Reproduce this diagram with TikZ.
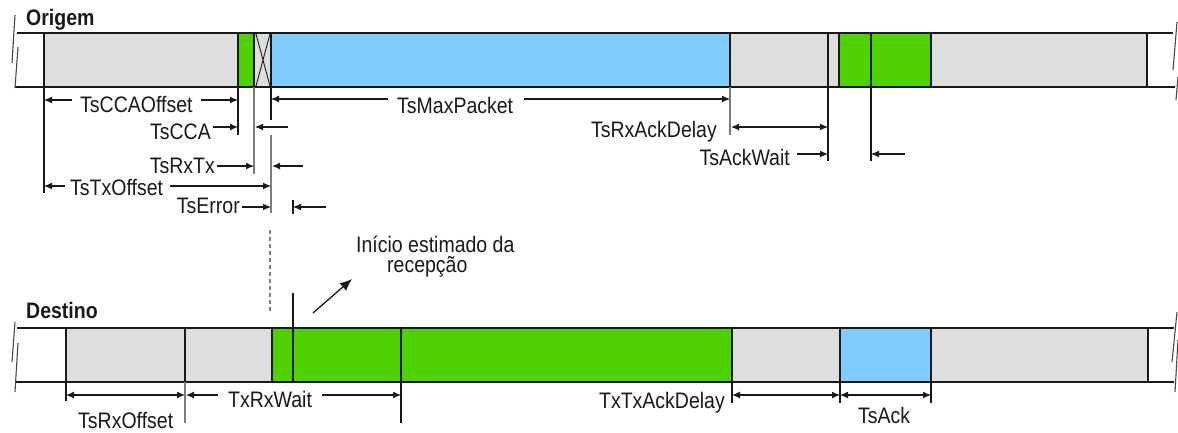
\documentclass[tikz,border=0pt]{standalone}
\usepackage{fontspec}
\setmainfont{Liberation Sans}
\usetikzlibrary{arrows.meta}
\definecolor{slot}{RGB}{222,222,222}
\definecolor{busy}{RGB}{79,209,0}
\definecolor{frame}{RGB}{128,204,255}
\definecolor{ink}{RGB}{25,25,25}
\definecolor{guide}{RGB}{125,125,125}
\newcommand{\lbl}[1]{\scalebox{1}[1.15]{#1}}
\begin{document}
\begin{tikzpicture}[x=1pt,y=-1pt,
  box/.style={draw=ink,line width=1.3pt},
  edge/.style={draw=ink,line width=1.3pt},
  dim/.style={draw=ink,line width=1.1pt},
  ext/.style={draw=ink,line width=1.1pt},
  extg/.style={draw=guide,line width=1.4pt},
  brk/.style={draw=ink!80,line width=1.1pt},
  rt/.style={dim,-{Latex[length=8pt,width=7pt]}},
  both/.style={dim,{Latex[length=8pt,width=7pt]}-{Latex[length=8pt,width=7pt]}},
  lab/.style={font=\fontsize{19.5}{22}\selectfont,inner sep=0pt,anchor=base west,text=ink},
  title/.style={font=\fontsize{19.5}{22}\selectfont\bfseries,inner sep=0pt,anchor=base west,text=ink}]
\useasboundingbox (0,0) rectangle (1178,432);

% ---------------- Origem (transmitter) time line ----------------
\node[title] (origem) at (26,25) {\lbl{Origem}};
\draw[box,fill=slot] (44,33) rectangle (238,87);
\draw[box,fill=busy] (238,33) rectangle (254,87);
\draw[box,fill=slot] (254,33) rectangle (271,87);
\draw[ink,line width=0.9pt] (256,34) -- (270,86) (270,34) -- (256,86);
\draw[box,fill=frame] (271,33) rectangle (730,87);
\draw[box,fill=slot] (730,33) rectangle (828,87);
\draw[box,fill=slot] (828,33) rectangle (839,87);
\draw[box,fill=busy] (839,33) rectangle (931,87);
\draw[box,fill=slot] (931,33) rectangle (1147,87);
\draw[edge] (17,33) -- (44,33) (15,87) -- (44,87);
\draw[edge] (1147,33) -- (1173,33) (1147,87) -- (1175,87);
% break marks
\draw[brk] (15,15) -- (12,63) (18,47) -- (15,88);
\draw[brk] (1177,22) -- (1173,70) (1178,77) -- (1176,100);

% extension lines
\draw[ext] (44,87) -- (44,193);
\draw[ext] (238,87) -- (238,135);
\draw[extg] (254,87) -- (254,174);
\draw[ext] (271,87) -- (271,120);
\draw[extg] (271,135) -- (271,213);
\draw[extg] (730,87) -- (730,135);
\draw[ext] (828,87) -- (828,161);
\draw[ext] (871,33) -- (871,161);

% row 1
\node[lab] (cca off) at (80,112) {\lbl{TsCCAOffset}};
\draw[rt] (72,100) -- (44,100);
\draw[rt] (201,100) -- (238,100);
\node[lab] (maxp) at (397,113) {\lbl{TsMaxPacket}};
\draw[rt] (388,99) -- (271,99);
\draw[rt] (524,99) -- (730,99);
% row 2
\node[lab,anchor=base east] (cca) at (211,139) {\lbl{TsCCA}};
\draw[rt] (213,127) -- (238,127);
\draw[rt] (288,127) -- (255,127);
\node[lab,anchor=base east] (rxack) at (717,137) {\lbl{TsRxAckDelay}};
\draw[both] (731,127) -- (828,127);
% row 3
\node[lab,anchor=base east] (rxtx) at (215,173) {\lbl{TsRxTx}};
\draw[rt] (217,166) -- (254,166);
\draw[rt] (303,166) -- (272,166);
\node[lab,anchor=base east] (ackwait) at (790,165) {\lbl{TsAckWait}};
\draw[rt] (797,154) -- (828,154);
\draw[rt] (905,154) -- (871,154);
% row 4
\node[lab] (txoff) at (70,195) {\lbl{TsTxOffset}};
\draw[rt] (65,186) -- (44,186);
\draw[rt] (170,186) -- (271,186);
% row 5
\node[lab,anchor=base east] (err) at (240,213) {\lbl{TsError}};
\draw[rt] (242,207) -- (271,207);
\draw[ext] (293,200) -- (293,214);
\draw[rt] (326,207) -- (293,207);

% ---------------- estimated start of reception ----------------
\draw[draw=guide,line width=1.1pt,dash pattern=on 4pt off 3pt] (270,230) -- (270,313);
\node[lab] (est) at (356,252)
  {\begin{tabular}[t]{@{}l@{}}\lbl{Início estimado da}\\[-2.5pt]\hspace*{31pt}\lbl{recepção}\end{tabular}};
\draw[draw=ink,line width=1.3pt,-{Latex[length=12pt,width=10pt]}] (313,313) -- (352,279);

% ---------------- Destino (receiver) time line ----------------
\node[title] (destino) at (26,318) {\lbl{Destino}};
\draw[box,fill=slot] (66,328) rectangle (185,382);
\draw[box,fill=slot] (185,328) rectangle (272,382);
\draw[box,fill=busy] (272,328) rectangle (401,382);
\draw[box,fill=busy] (401,328) rectangle (732,382);
\draw[box,fill=slot] (732,328) rectangle (840,382);
\draw[box,fill=frame] (840,328) rectangle (931,382);
\draw[box,fill=slot] (931,328) rectangle (1148,382);
\draw[edge] (17,328) -- (66,328) (15,382) -- (66,382);
\draw[edge] (1148,328) -- (1174,328) (1148,382) -- (1174,382);
\draw[ext] (293,293) -- (293,382);
% break marks
\draw[brk] (15,322) -- (12,362) (18,343) -- (15,392);
\draw[brk] (1177,312) -- (1172,362) (1178,340) -- (1175,392);

% extension lines
\draw[ext] (66,382) -- (66,401);
\draw[extg] (185,382) -- (185,423);
\draw[ext] (401,382) -- (401,423);
\draw[ext] (732,382) -- (732,403);
\draw[ext] (840,382) -- (840,403);
\draw[ext] (931,382) -- (931,403);

% dimensions
\draw[both] (66,395) -- (185,395);
\node[lab] (rxoff) at (78,428) {\lbl{TsRxOffset}};
\node[lab] (rxwait) at (228,407) {\lbl{TxRxWait}};
\draw[rt] (218,395) -- (186,395);
\draw[rt] (322,395) -- (401,395);
\node[lab,anchor=base east] (txack) at (725,408) {\lbl{TxTxAckDelay}};
\draw[both] (732,395) -- (840,395);
\draw[both] (840,395) -- (931,395);
\node[lab] (ack) at (858,423) {\lbl{TsAck}};
\end{tikzpicture}
\end{document}
